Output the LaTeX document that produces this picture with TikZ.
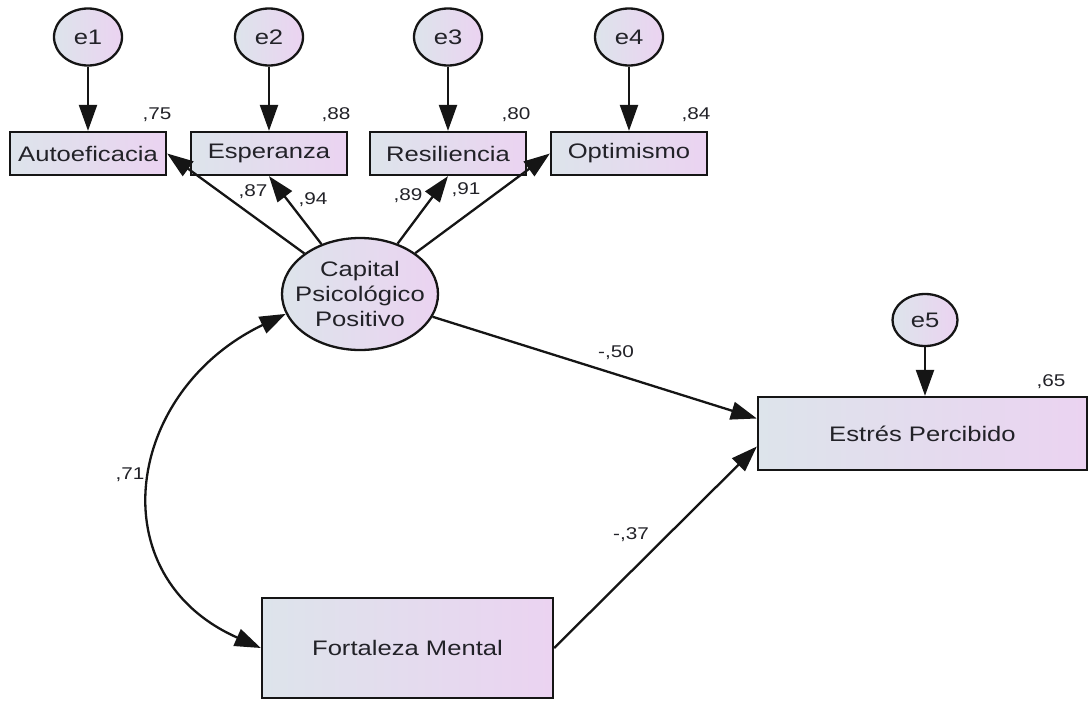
\documentclass[tikz,border=0pt]{standalone}
\usepackage{fontspec}
\setmainfont{Liberation Sans}[FakeStretch=1.22]
\usetikzlibrary{arrows.meta,shapes.geometric,calc}
\definecolor{lineC}{HTML}{151515}
\definecolor{txtC}{HTML}{222228}
\definecolor{fillL}{HTML}{DDE4EB}
\definecolor{fillR}{HTML}{EBD3F1}
\begin{document}
\begin{tikzpicture}[x=1pt,y=-1pt,
  base/.style={draw=lineC,line width=2.3pt,left color=fillL,right color=fillR,inner sep=0pt,text=txtC,font=\fontsize{21}{25}\selectfont},
  obs/.style={base,rectangle,minimum width=156pt,minimum height=43pt},
  err/.style={base,ellipse,minimum width=68pt,minimum height=57pt},
  lat/.style={base,ellipse,inner xsep=-20pt,minimum width=156pt,minimum height=112pt,align=center},
  coef/.style={font=\fontsize{17}{20}\selectfont,text=txtC,inner sep=0pt},
  arr/.style={draw=lineC,line width=2.3pt,-{Triangle[length=26pt,width=18pt]}},
  darr/.style={draw=lineC,line width=2.3pt,{Triangle[length=26pt,width=18pt]}-{Triangle[length=26pt,width=18pt]}}
]
\useasboundingbox (0,0) rectangle (1089,701);

% error terms
\node[err] (e1) at (88,37) {e1};
\node[err] (e2) at (269,37) {e2};
\node[err] (e3) at (448,37) {e3};
\node[err] (e4) at (629,37) {e4};
\node[err,minimum width=65pt,minimum height=52pt] (e5) at (925,320) {e5};

% observed indicators
\node[obs] (auto) at (88,153.5) {Autoeficacia};
\node[obs] (esp) at (269,153.5) {Esperanza};
\node[obs] (res) at (448,153.5) {Resiliencia};
\node[obs] (opt) at (629,153.5) {Optimismo};

% latent
\node[lat] (cap) at (360,294) {Capital\\Psicológico\\Positivo};

% other observed
\node[obs,minimum width=329pt,minimum height=73pt] (est) at (922.5,433.5) {Estrés Percibido};
\node[obs,minimum width=291pt,minimum height=100pt] (fort) at (407.5,648) {Fortaleza Mental};

% arrows from errors
\draw[arr] (e1) -- (auto);
\draw[arr] (e2) -- (esp);
\draw[arr] (e3) -- (res);
\draw[arr] (e4) -- (opt);
\draw[arr] (e5) -- (e5 |- est.north);

% loadings
\draw[arr] (cap) -- (auto.east);
\draw[arr] (cap) -- (esp.south);
\draw[arr] (cap) -- (res.south);
\draw[arr] (cap) -- (opt.west);

% structural paths
\draw[arr] (cap) -- ($(est.west)+(0,-15)$);
\draw[arr] (fort.east) -- ($(est.west)+(0,13)$);

% covariance
\draw[darr] (cap.195) .. controls (125,391) and (98,576) .. (fort.west);

% coefficients
\node[coef] (r75) at (157,115) {,75};
\node[coef] (r88) at (336,115) {,88};
\node[coef] (r80) at (516,115) {,80};
\node[coef] (r84) at (696,115) {,84};
\node[coef] (l87) at (253,192) {,87};
\node[coef] (l94) at (313,200) {,94};
\node[coef] (l89) at (408,196) {,89};
\node[coef] (l91) at (466,190) {,91};
\node[coef] (r65) at (1051,382) {,65};
\node[coef] (p50) at (616,353) {-,50};
\node[coef] (p37) at (631,535) {-,37};
\node[coef] (c71) at (130,475) {,71};
\end{tikzpicture}
\end{document}
